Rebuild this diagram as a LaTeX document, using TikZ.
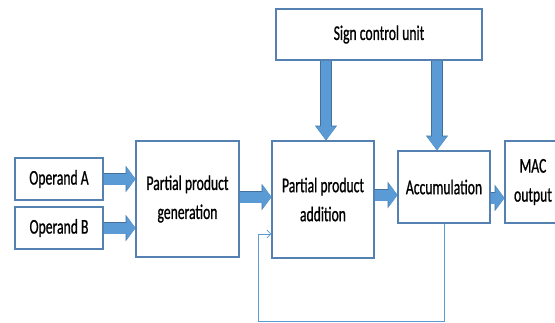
\documentclass[tikz,border=0pt]{standalone}
\usepackage{fontspec}
\newfontfamily\cf[FakeStretch=0.65,FakeBold=0.8]{Carlito}
\usetikzlibrary{arrows.meta,calc}
\definecolor{boxline}{RGB}{84,128,178}
\definecolor{arrfill}{RGB}{91,155,213}
\definecolor{arrline}{RGB}{65,113,156}
\begin{document}
\begin{tikzpicture}[x=1pt,y=-1pt,
  blk/.style={draw=boxline,line width=1.1pt,fill=white,align=center,inner sep=0pt,
    font=\cf\fontsize{21}{29}\selectfont},
  fat/.style={line width=11pt,draw=arrfill,-{Triangle[length=9pt,width=24pt]},
    preaction={draw=arrline,line width=12.2pt,-{Triangle[length=9.8pt,width=26pt]}}},
  fatv/.style={line width=10pt,draw=arrfill,-{Triangle[length=14pt,width=19pt]},
    preaction={draw=arrline,line width=11.2pt,-{Triangle[length=14.8pt,width=21pt]}}},
  fb/.style={draw=arrfill,line width=0.8pt,-{Straight Barb[length=4pt,width=8pt]}}]
\useasboundingbox (0,0) rectangle (555,322);
\clip (0,0) rectangle (555,322);
\node[blk,minimum width=88pt,minimum height=42pt] (opA) at (59,179) {Operand A};
\node[blk,minimum width=88pt,minimum height=42pt] (opB) at (59,228) {Operand B};
\node[blk,minimum width=103pt,minimum height=116pt] (ppg) at (187.5,199) {Partial product\\generation};
\node[blk,minimum width=102pt,minimum height=117pt] (ppa) at (323,199.5) {Partial product\\addition};
\node[blk,minimum width=92pt,minimum height=72pt] (acc) at (444,187) {Accumulation};
\node[blk,minimum width=56pt,minimum height=82pt] (mac) at (533,182) {MAC\\output};
\node[blk,minimum width=206pt,minimum height=51pt] (scu) at (379,34.5) {Sign control unit};
\draw[fat] (opA.east) -- (opA.east -| ppg.west);
\draw[fat] (opB.east) -- (opB.east -| ppg.west);
\coordinate (c1) at ($(ppg.east)+(0,-2)$);
\draw[fat] (c1) -- (c1 -| ppa.west);
\coordinate (c2) at ($(ppa.east)+(0,-4.5)$);
\draw[fat] (c2) -- (c2 -| acc.west);
\coordinate (c3) at ($(acc.east)+(0,11)$);
\draw[fat] (c3) -- (c3 -| mac.west);
\coordinate (d1) at ($(ppa.north)+(3,0)$);
\draw[fatv] (d1 |- scu.south) -- (d1);
\coordinate (d2) at ($(acc.north)+(-7,0)$);
\draw[fatv] (d2 |- scu.south) -- (d2);
\coordinate (f1) at (258,321);
\coordinate (f2) at ($(ppa.west)+(0,34.5)$);
\draw[fb] (acc.south) |- (f1) |- (f2);
\end{tikzpicture}
\end{document}
